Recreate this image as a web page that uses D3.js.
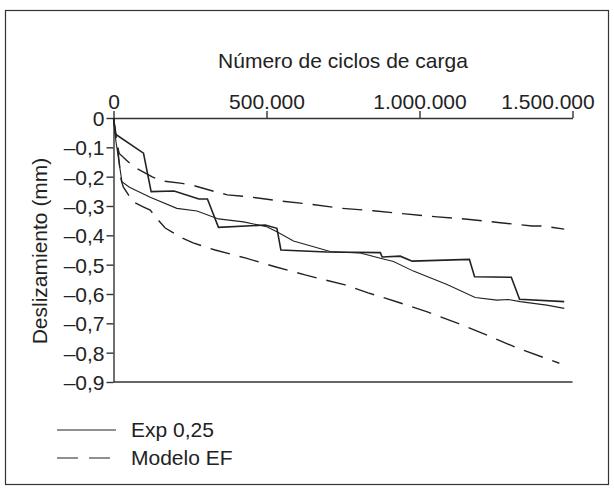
<!DOCTYPE html>
<html>
<head>
<meta charset="utf-8">
<script src="https://cdn.jsdelivr.net/npm/d3@7"></script>
<style>
  body { margin: 0; background: #fff; }
  text { font-family: "Liberation Sans", Arial, sans-serif; fill: #222; }
</style>
</head>
<body>
<svg width="614" height="489"></svg>
<script>
// cycles (x) and slip in mm (y)
const expStepX = [0, 7800, 98000, 123000, 198000, 279000, 307000, 343000, 496000, 534000, 547000, 697000, 872000, 878000, 937000, 976000, 1163000, 1180000, 1300000, 1327000, 1473000];
const expStepY = [0, -0.056, -0.120, -0.251, -0.249, -0.276, -0.276, -0.373, -0.365, -0.376, -0.450, -0.457, -0.459, -0.474, -0.471, -0.488, -0.482, -0.541, -0.543, -0.618, -0.626];

const expSmoothX = [0, 8000, 27500, 52000, 120000, 207000, 273000, 343000, 425000, 501000, 534000, 588000, 654000, 708000, 806000, 872000, 915000, 980000, 1090000, 1182000, 1253000, 1290000, 1329000, 1416000, 1473000];
const expSmoothY = [0, -0.08, -0.217, -0.236, -0.270, -0.308, -0.317, -0.344, -0.354, -0.371, -0.388, -0.419, -0.439, -0.455, -0.460, -0.478, -0.489, -0.522, -0.568, -0.612, -0.621, -0.619, -0.626, -0.638, -0.649];

const modelUpX = [0, 8800, 18600, 41500, 67600, 126500, 162000, 224500, 267000, 332000, 372000, 437000, 538000, 636000, 747000, 849000, 953000, 1058000, 1156000, 1264000, 1368000, 1404000, 1473000];
const modelUpY = [0, -0.075, -0.121, -0.143, -0.167, -0.201, -0.215, -0.223, -0.232, -0.251, -0.262, -0.268, -0.282, -0.293, -0.308, -0.316, -0.327, -0.337, -0.345, -0.357, -0.368, -0.368, -0.379];

const modelLowX = [0, 15000, 25000, 32000, 64000, 97000, 120000, 146000, 169000, 224500, 260000, 332000, 430000, 528000, 626000, 757000, 832000, 930000, 1028000, 1126000, 1224000, 1322000, 1420000, 1457000];
const modelLowY = [0, -0.116, -0.211, -0.235, -0.286, -0.303, -0.314, -0.348, -0.375, -0.409, -0.426, -0.450, -0.477, -0.507, -0.535, -0.569, -0.596, -0.628, -0.662, -0.700, -0.742, -0.785, -0.822, -0.836];

const xTicks = [0, 500000, 1000000, 1500000];
const yTicks = [0, -0.1, -0.2, -0.3, -0.4, -0.5, -0.6, -0.7, -0.8, -0.9];
const legendLabels = ["Exp 0,25", "Modelo EF"];

const svg = d3.select("svg");
const ink = "#222";
const fs = 21;

svg.append("rect")
  .attr("x", 5.5).attr("y", 10.5)
  .attr("width", 603).attr("height", 474)
  .attr("fill", "none").attr("stroke", "#333").attr("stroke-width", 1.2);

const x = d3.scaleLinear().domain([0, 1500000]).range([113.5, 572.5]);
const y = d3.scaleLinear().domain([0, -0.9]).range([118, 382]);

const loc = d3.formatLocale({ decimal: ",", thousands: ".", grouping: [3], currency: ["", ""] });
const fmtX = loc.format(",d");
const fmtY = d => d === 0 ? "0" : "\u2013" + loc.format(".1f")(-d);

const xAxis = svg.append("g")
  .attr("transform", `translate(0,${y(0)})`)
  .call(d3.axisTop(x).tickValues(xTicks).tickFormat(fmtX).tickSize(7).tickSizeOuter(0).tickPadding(2));

const yAxis = svg.append("g")
  .attr("transform", `translate(${x(0)},0)`)
  .call(d3.axisLeft(y).tickValues(yTicks).tickFormat(fmtY).tickSize(7).tickSizeOuter(0).tickPadding(2));

[xAxis, yAxis].forEach(g => {
  g.selectAll("path, line").attr("stroke", "#333").attr("stroke-width", 1.4);
  g.selectAll("text").attr("font-size", fs).attr("fill", ink)
    .style("font-family", "'Liberation Sans', Arial, sans-serif");
});
yAxis.selectAll("text").attr("dy", "0.36em");
// last label sits to the left of its tick, as in the print
xAxis.selectAll(".tick text").filter(d => d === 1500000).attr("dx", -25);

// bottom frame line of the plot
svg.append("line")
  .attr("x1", x(0)).attr("x2", x(1500000))
  .attr("y1", y(-0.9)).attr("y2", y(-0.9))
  .attr("stroke", "#333").attr("stroke-width", 1.4);

svg.append("text")
  .attr("x", 343).attr("y", 68)
  .attr("text-anchor", "middle").attr("font-size", fs)
  .text("Número de ciclos de carga");

svg.append("text")
  .attr("transform", "translate(47,251) rotate(-90)")
  .attr("text-anchor", "middle").attr("font-size", fs)
  .text("Deslizamiento (mm)");

const line = d3.line().x(d => x(d[0])).y(d => y(d[1]));
const series = [
  { xs: expStepX, ys: expStepY, dash: null, w: 1.6 },
  { xs: expSmoothX, ys: expSmoothY, dash: null, w: 1.1 },
  { xs: modelUpX, ys: modelUpY, dash: "20,10", w: 1.4 },
  { xs: modelLowX, ys: modelLowY, dash: "20,10", w: 1.4 }
];
series.forEach(s => {
  svg.append("path")
    .datum(s.xs.map((v, i) => [v, s.ys[i]]))
    .attr("d", line)
    .attr("fill", "none")
    .attr("stroke", ink)
    .attr("stroke-width", s.w)
    .attr("stroke-dasharray", s.dash);
});

// legend
const legend = svg.append("g");
legendLabels.forEach((lab, i) => {
  const ly = 430 + i * 28;
  legend.append("line")
    .attr("x1", 57).attr("x2", 116).attr("y1", ly).attr("y2", ly)
    .attr("stroke", ink).attr("stroke-width", 1.2)
    .attr("stroke-dasharray", i === 1 ? "21,11" : null);
  legend.append("text")
    .attr("x", 131).attr("y", ly + 7)
    .attr("font-size", fs)
    .text(lab);
});
</script>
</body>
</html>
